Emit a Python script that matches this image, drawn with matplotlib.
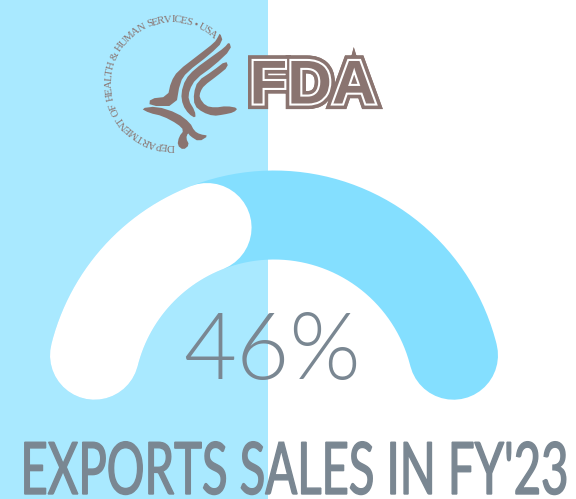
#!/usr/bin/env python3
import matplotlib
matplotlib.use('Agg')
import matplotlib.pyplot as plt
import matplotlib.patheffects as pe
import numpy as np
from matplotlib.patches import Polygon, Rectangle
from matplotlib.textpath import TextPath
from matplotlib.transforms import Affine2D

# data
export_share = 46
gauge_total = 100
title = "EXPORTS SALES IN FY'23"
seal_text = "DEPARTMENT OF HEALTH & HUMAN SERVICES \u2022 USA"
agency = "FDA"

# colours
panel_blue = '#A9E9FF'
track_blue = '#84DFFF'
text_grey = '#7A8792'
logo_brown = '#8A7470'

# eagle outlines, traced on the logo (crop pixels, 3x)
wing_1 = [(360, 68), (369, 95), (330, 133), (260, 187), (240, 217), (228, 288), (148, 288), (150, 266),
          (203, 260), (213, 215), (233, 183), (298, 133), (343, 98), (353, 83)]
wing_2 = [(388, 95), (394, 118), (342, 167), (287, 207), (268, 240), (265, 270), (285, 303), (287, 325),
          (266, 312), (248, 285), (243, 250), (256, 208), (283, 178), (338, 138), (373, 113)]
wing_3 = [(378, 152), (385, 170), (352, 197), (312, 227), (301, 245), (298, 263), (317, 288), (345, 293),
          (380, 288), (414, 294), (402, 307), (370, 314), (340, 318), (308, 307), (283, 287), (281, 250),
          (293, 213), (338, 183)]
body = [(122, 295), (170, 289), (232, 309), (270, 338), (283, 363), (300, 373), (326, 377), (297, 395),
        (270, 378), (264, 368), (258, 385), (268, 405), (250, 420), (232, 406), (237, 380), (252, 361),
        (233, 342), (188, 318), (148, 309)]


class Stretch(pe.AbstractPathEffect):
    # the tall condensed display face is not installed, so stretch the glyphs when drawn
    def __init__(self, sy, y_from, y_to, lw=0):
        super().__init__()
        self.sy = sy
        self.y_from = y_from
        self.y_to = y_to
        self.lw = lw

    def draw_path(self, renderer, gc, tpath, affine, rgbFace=None):
        tall = affine + Affine2D().translate(0, -self.y_from).scale(1, self.sy).translate(0, self.y_to)
        if self.lw > 0:
            gc.set_linewidth(self.lw)
            gc.set_foreground(rgbFace)
            gc.set_joinstyle('miter')
        renderer.draw_path(gc, tpath, tall, rgbFace)


def smooth(pts, rounds=1):
    pts = np.array(pts, dtype=float)
    for _ in range(rounds):
        nxt = np.roll(pts, -1, axis=0)
        pts = np.column_stack([0.75 * pts + 0.25 * nxt, 0.25 * pts + 0.75 * nxt]).reshape(-1, 2)
    return pts


fig = plt.figure(figsize=(5.76, 4.99), dpi=100, facecolor='white')
ax = fig.add_axes([0, 0, 1, 1])
ax.set_xlim(0, 576)
ax.set_ylim(499, 0)
ax.axis('off')

ax.add_patch(Rectangle((0, 0), 268, 499, color=panel_blue, lw=0, zorder=0))

# gauge: a half circle, round caps included in the half
cx, cy, r, band = 274, 400, 185, 89
cap_deg = 14
start = 180 - cap_deg
stop = cap_deg
tip = 180 - 180 * export_share / gauge_total
fill_end = tip + cap_deg


def arc(a0, a1, color, z):
    t = np.radians(np.linspace(a0, a1, 200))
    ax.plot(cx + r * np.cos(t), cy - r * np.sin(t), color=color, lw=band * 0.72,
            solid_capstyle='round', zorder=z)


arc(start, stop, track_blue, 1)
arc(start, fill_end, 'white', 2)

# logo
for part in (wing_1, wing_2, wing_3, body):
    xy = smooth(part)
    xy = np.column_stack([100 + xy[:, 0] / 3, 10 + xy[:, 1] / 3])
    ax.add_patch(Polygon(xy, closed=True, color=logo_brown, lw=0, zorder=3))

seal_x, seal_y, seal_r = 172, 83, 63
seal_pt = 7.8
widths = []
for ch in seal_text:
    widths.append(seal_pt * 0.3 if ch == ' ' else TextPath((0, 0), ch, size=seal_pt, prop={'family': 'Liberation Serif'}).get_extents().width + 0.75)
widths = np.array(widths)
mids = np.cumsum(widths) - widths / 2
angles = 272 - mids / widths.sum() * (272 - 47)
for ch, a in zip(seal_text, angles):
    t = np.radians(a)
    ax.text(seal_x + seal_r * np.cos(t), seal_y - seal_r * np.sin(t), ch, color=logo_brown, fontsize=seal_pt,
            family='Liberation Serif', rotation=a - 90, rotation_mode='anchor', ha='center', va='center', zorder=3)

# FDA: outer band, inline, core; the inline shows the panel on the blue side
for inline, clip in ((panel_blue, (0, 0, 268, 499)), ('white', (268, 0, 308, 499))):
    fda = ax.text(313, 103.5, agency, color=logo_brown, fontsize=44.5, family='Liberation Sans', fontweight='bold',
                  ha='center', va='baseline', zorder=3,
                  path_effects=[pe.Stroke(linewidth=8, foreground=logo_brown, joinstyle='miter'),
                                pe.Stroke(linewidth=3.0, foreground=inline, joinstyle='miter'),
                                pe.Normal()])
    fda.set_clip_path(Rectangle(clip[:2], clip[2], clip[3], transform=ax.transData))

ax.text(272, 379, '%d%%' % export_share, color=text_grey, fontsize=66, family='Lato', fontweight=300,
        ha='center', va='baseline', zorder=4)

# text box sits inside the canvas; the drawn baseline goes down to 5 px above the edge
banner = ax.text(295, 484, title, color=text_grey, fontsize=34, family='Lato', fontweight=400,
                 ha='center', va='baseline', zorder=4)
banner.set_path_effects([Stretch(1.53, 15, 5, lw=1.0)])

fig.savefig('out.png', dpi=100)
